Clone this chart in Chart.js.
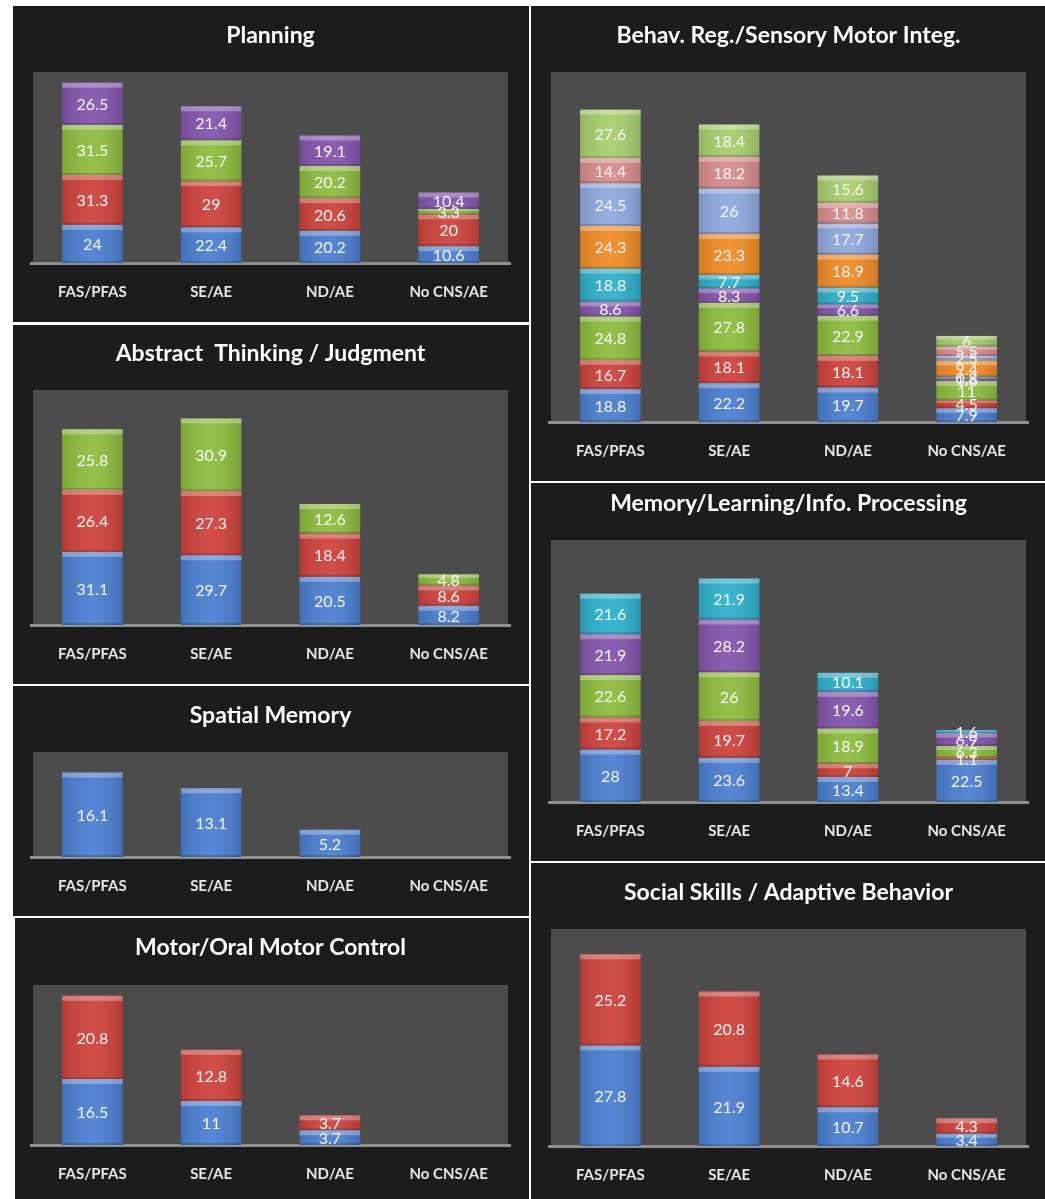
<!DOCTYPE html>
<html>
<head>
<meta charset="utf-8">
<script src="https://cdn.jsdelivr.net/npm/chart.js@4.4.1/dist/chart.umd.min.js"></script>
<style>
html,body{margin:0;padding:0;background:#ffffff;}
body{width:1045px;height:1199px;position:relative;overflow:hidden;}
.panel{position:absolute;background:#1c1c1c;}
canvas{display:block;}
</style>
</head>
<body>
<div class="panel" style="left:13px;top:6px;width:516px;height:316px"><canvas id="c1" width="516" height="316"></canvas></div>
<div class="panel" style="left:13px;top:325px;width:516px;height:359px"><canvas id="c2" width="516" height="359"></canvas></div>
<div class="panel" style="left:13px;top:686px;width:516px;height:230px"><canvas id="c3" width="516" height="230"></canvas></div>
<div class="panel" style="left:15px;top:918px;width:514px;height:281px"><canvas id="c4" width="514" height="281"></canvas></div>
<div class="panel" style="left:531px;top:6px;width:514px;height:475px"><canvas id="c5" width="514" height="475"></canvas></div>
<div class="panel" style="left:531px;top:483px;width:514px;height:378px"><canvas id="c6" width="514" height="378"></canvas></div>
<div class="panel" style="left:531px;top:863px;width:514px;height:336px"><canvas id="c7" width="514" height="336"></canvas></div>
<script>
// ---------- DATA ----------
const categories = ['FAS/PFAS', 'SE/AE', 'ND/AE', 'No CNS/AE'];

const planningBlue   = [24, 22.4, 20.2, 10.6];
const planningRed    = [31.3, 29, 20.6, 20];
const planningGreen  = [31.5, 25.7, 20.2, 3.3];
const planningPurple = [26.5, 21.4, 19.1, 10.4];

const abstractBlue  = [31.1, 29.7, 20.5, 8.2];
const abstractRed   = [26.4, 27.3, 18.4, 8.6];
const abstractGreen = [25.8, 30.9, 12.6, 4.8];

const spatialBlue = [16.1, 13.1, 5.2, null];

const motorBlue = [16.5, 11, 3.7, null];
const motorRed  = [20.8, 12.8, 3.7, null];

const behavBlue       = [18.8, 22.2, 19.7, 7.9];
const behavRed        = [16.7, 18.1, 18.1, 4.5];
const behavGreen      = [24.8, 27.8, 22.9, 11];
const behavPurple     = [8.6, 8.3, 6.6, 1.6];
const behavCyan       = [18.8, 7.7, 9.5, 0.8];
const behavOrange     = [24.3, 23.3, 18.9, 9.4];
const behavLightBlue  = [24.5, 26, 17.7, 2.5];
const behavPink       = [14.4, 18.2, 11.8, 5.5];
const behavLightGreen = [27.6, 18.4, 15.6, 6];

const memoryBlue   = [28, 23.6, 13.4, 22.5];
const memoryRed    = [17.2, 19.7, 7, 1.1];
const memoryGreen  = [22.6, 26, 18.9, 6.3];
const memoryPurple = [21.9, 28.2, 19.6, 6.9];
const memoryCyan   = [21.6, 21.9, 10.1, 1.6];

const socialBlue = [27.8, 21.9, 10.7, 3.4];
const socialRed  = [25.2, 20.8, 14.6, 4.3];

// ---------- STYLE ----------
const C = {
  blue: '#4b7fd2', red: '#cf423b', green: '#8dbd3e', purple: '#8455ad',
  cyan: '#2fb1cd', orange: '#f28c25', lightBlue: '#8eaadf', pink: '#d98d8c', lightGreen: '#a8cf6d'
};
const FONT = "Lato, 'Open Sans', 'DejaVu Sans', sans-serif";
const TITLE_SIZE = 23;
const TITLE_HALF = TITLE_SIZE * 1.2 / 2;

const plotPlugin = {
  id: 'plotBg',
  beforeDatasetsDraw(chart) {
    const {ctx, chartArea: a} = chart;
    ctx.save();
    ctx.fillStyle = '#4c4c4c';
    ctx.fillRect(a.left, a.top, a.right - a.left, a.bottom - a.top);
    ctx.fillStyle = '#8f8f8f';
    ctx.fillRect(a.left - 3, a.bottom - 1, a.right - a.left + 6, 3);
    ctx.restore();
  },
  afterDatasetsDraw(chart) {
    const ctx = chart.ctx;
    ctx.save();
    chart.data.datasets.forEach((ds, di) => {
      const meta = chart.getDatasetMeta(di);
      meta.data.forEach((el, i) => {
        const v = ds.data[i];
        if (v === null || v === undefined) return;
        const p = el.getProps(['x', 'y', 'base', 'width'], true);
        const l = p.x - p.width / 2, t = Math.min(p.y, p.base), h = Math.abs(p.base - p.y);
        const g = ctx.createLinearGradient(l, 0, l + p.width, 0);
        g.addColorStop(0, 'rgba(0,0,0,0.12)');
        g.addColorStop(0.5, 'rgba(255,255,255,0.06)');
        g.addColorStop(1, 'rgba(0,0,0,0.14)');
        ctx.fillStyle = g;
        ctx.fillRect(l, t, p.width, h);
        const bh = Math.min(5, h / 3);
        ctx.fillStyle = 'rgba(255,255,255,0.3)';
        ctx.fillRect(l, t, p.width, bh);
        ctx.fillStyle = 'rgba(0,0,0,0.15)';
        ctx.fillRect(l, t + h - Math.min(2, h / 4), p.width, Math.min(2, h / 4));
      });
    });
    ctx.fillStyle = '#f6f6f6';
    ctx.font = '16px ' + FONT;
    ctx.textAlign = 'center';
    ctx.textBaseline = 'middle';
    chart.data.datasets.forEach((ds, di) => {
      const meta = chart.getDatasetMeta(di);
      meta.data.forEach((el, i) => {
        const v = ds.data[i];
        if (v === null || v === undefined) return;
        const p = el.getProps(['x', 'y', 'base'], true);
        ctx.fillText(String(v), p.x, (p.y + p.base) / 2 + 1);
      });
    });
    ctx.restore();
  }
};

function makeChart(id, title, series, yMax, geo) {
  const datasets = series.map(s => ({
    label: s.name, data: s.data, backgroundColor: s.color, borderWidth: 0,
    barPercentage: 1, categoryPercentage: 0.51
  }));
  const xH = geo.h - geo.base;
  new Chart(document.getElementById(id), {
    type: 'bar',
    data: {labels: categories, datasets},
    options: {
      responsive: false, animation: false, devicePixelRatio: 1,
      layout: {padding: {left: geo.left, right: geo.right, top: 0, bottom: 0}},
      plugins: {
        legend: {display: false}, tooltip: {enabled: false},
        title: {
          display: true, text: title, color: '#ffffff',
          font: {family: FONT, size: TITLE_SIZE, weight: 'bold', lineHeight: 1.2},
          padding: {top: geo.title - TITLE_HALF, bottom: geo.plotTop - geo.title - TITLE_HALF}
        }
      },
      scales: {
        x: {
          stacked: true,
          grid: {display: false, drawTicks: false},
          border: {display: false},
          ticks: {color: '#e6e6e6', font: {family: FONT, size: 15, weight: 'bold', lineHeight: 1.2}, padding: 20, maxRotation: 0, autoSkip: false},
          afterFit(scale) { scale.height = xH; }
        },
        y: {stacked: true, display: false, min: 0, max: yMax}
      }
    },
    plugins: [plotPlugin]
  });
}

makeChart('c1', 'Planning', [
  {name: 'a', data: planningBlue, color: C.blue},
  {name: 'b', data: planningRed, color: C.red},
  {name: 'c', data: planningGreen, color: C.green},
  {name: 'd', data: planningPurple, color: C.purple}
], 120, {h: 316, left: 20, right: 21, title: 30, plotTop: 66, base: 257});

makeChart('c2', 'Abstract  Thinking / Judgment', [
  {name: 'a', data: abstractBlue, color: C.blue},
  {name: 'b', data: abstractRed, color: C.red},
  {name: 'c', data: abstractGreen, color: C.green}
], 100, {h: 359, left: 20, right: 21, title: 29, plotTop: 65, base: 300});

makeChart('c3', 'Spatial Memory', [
  {name: 'a', data: spatialBlue, color: C.blue}
], 20, {h: 230, left: 20, right: 21, title: 30, plotTop: 66, base: 171});

makeChart('c4', 'Motor/Oral Motor Control', [
  {name: 'a', data: motorBlue, color: C.blue},
  {name: 'b', data: motorRed, color: C.red}
], 40, {h: 281, left: 18, right: 21, title: 30, plotTop: 67, base: 227});

makeChart('c5', 'Behav. Reg./Sensory Motor Integ.', [
  {name: 'a', data: behavBlue, color: C.blue},
  {name: 'b', data: behavRed, color: C.red},
  {name: 'c', data: behavGreen, color: C.green},
  {name: 'd', data: behavPurple, color: C.purple},
  {name: 'e', data: behavCyan, color: C.cyan},
  {name: 'f', data: behavOrange, color: C.orange},
  {name: 'g', data: behavLightBlue, color: C.lightBlue},
  {name: 'h', data: behavPink, color: C.pink},
  {name: 'i', data: behavLightGreen, color: C.lightGreen}
], 200, {h: 475, left: 20, right: 19, title: 30, plotTop: 66, base: 416});

makeChart('c6', 'Memory/Learning/Info. Processing', [
  {name: 'a', data: memoryBlue, color: C.blue},
  {name: 'b', data: memoryRed, color: C.red},
  {name: 'c', data: memoryGreen, color: C.green},
  {name: 'd', data: memoryPurple, color: C.purple},
  {name: 'e', data: memoryCyan, color: C.cyan}
], 140, {h: 378, left: 20, right: 19, title: 21, plotTop: 57, base: 319});

makeChart('c7', 'Social Skills / Adaptive Behavior', [
  {name: 'a', data: socialBlue, color: C.blue},
  {name: 'b', data: socialRed, color: C.red}
], 60, {h: 336, left: 20, right: 19, title: 30, plotTop: 66, base: 283});
</script>
</body>
</html>
